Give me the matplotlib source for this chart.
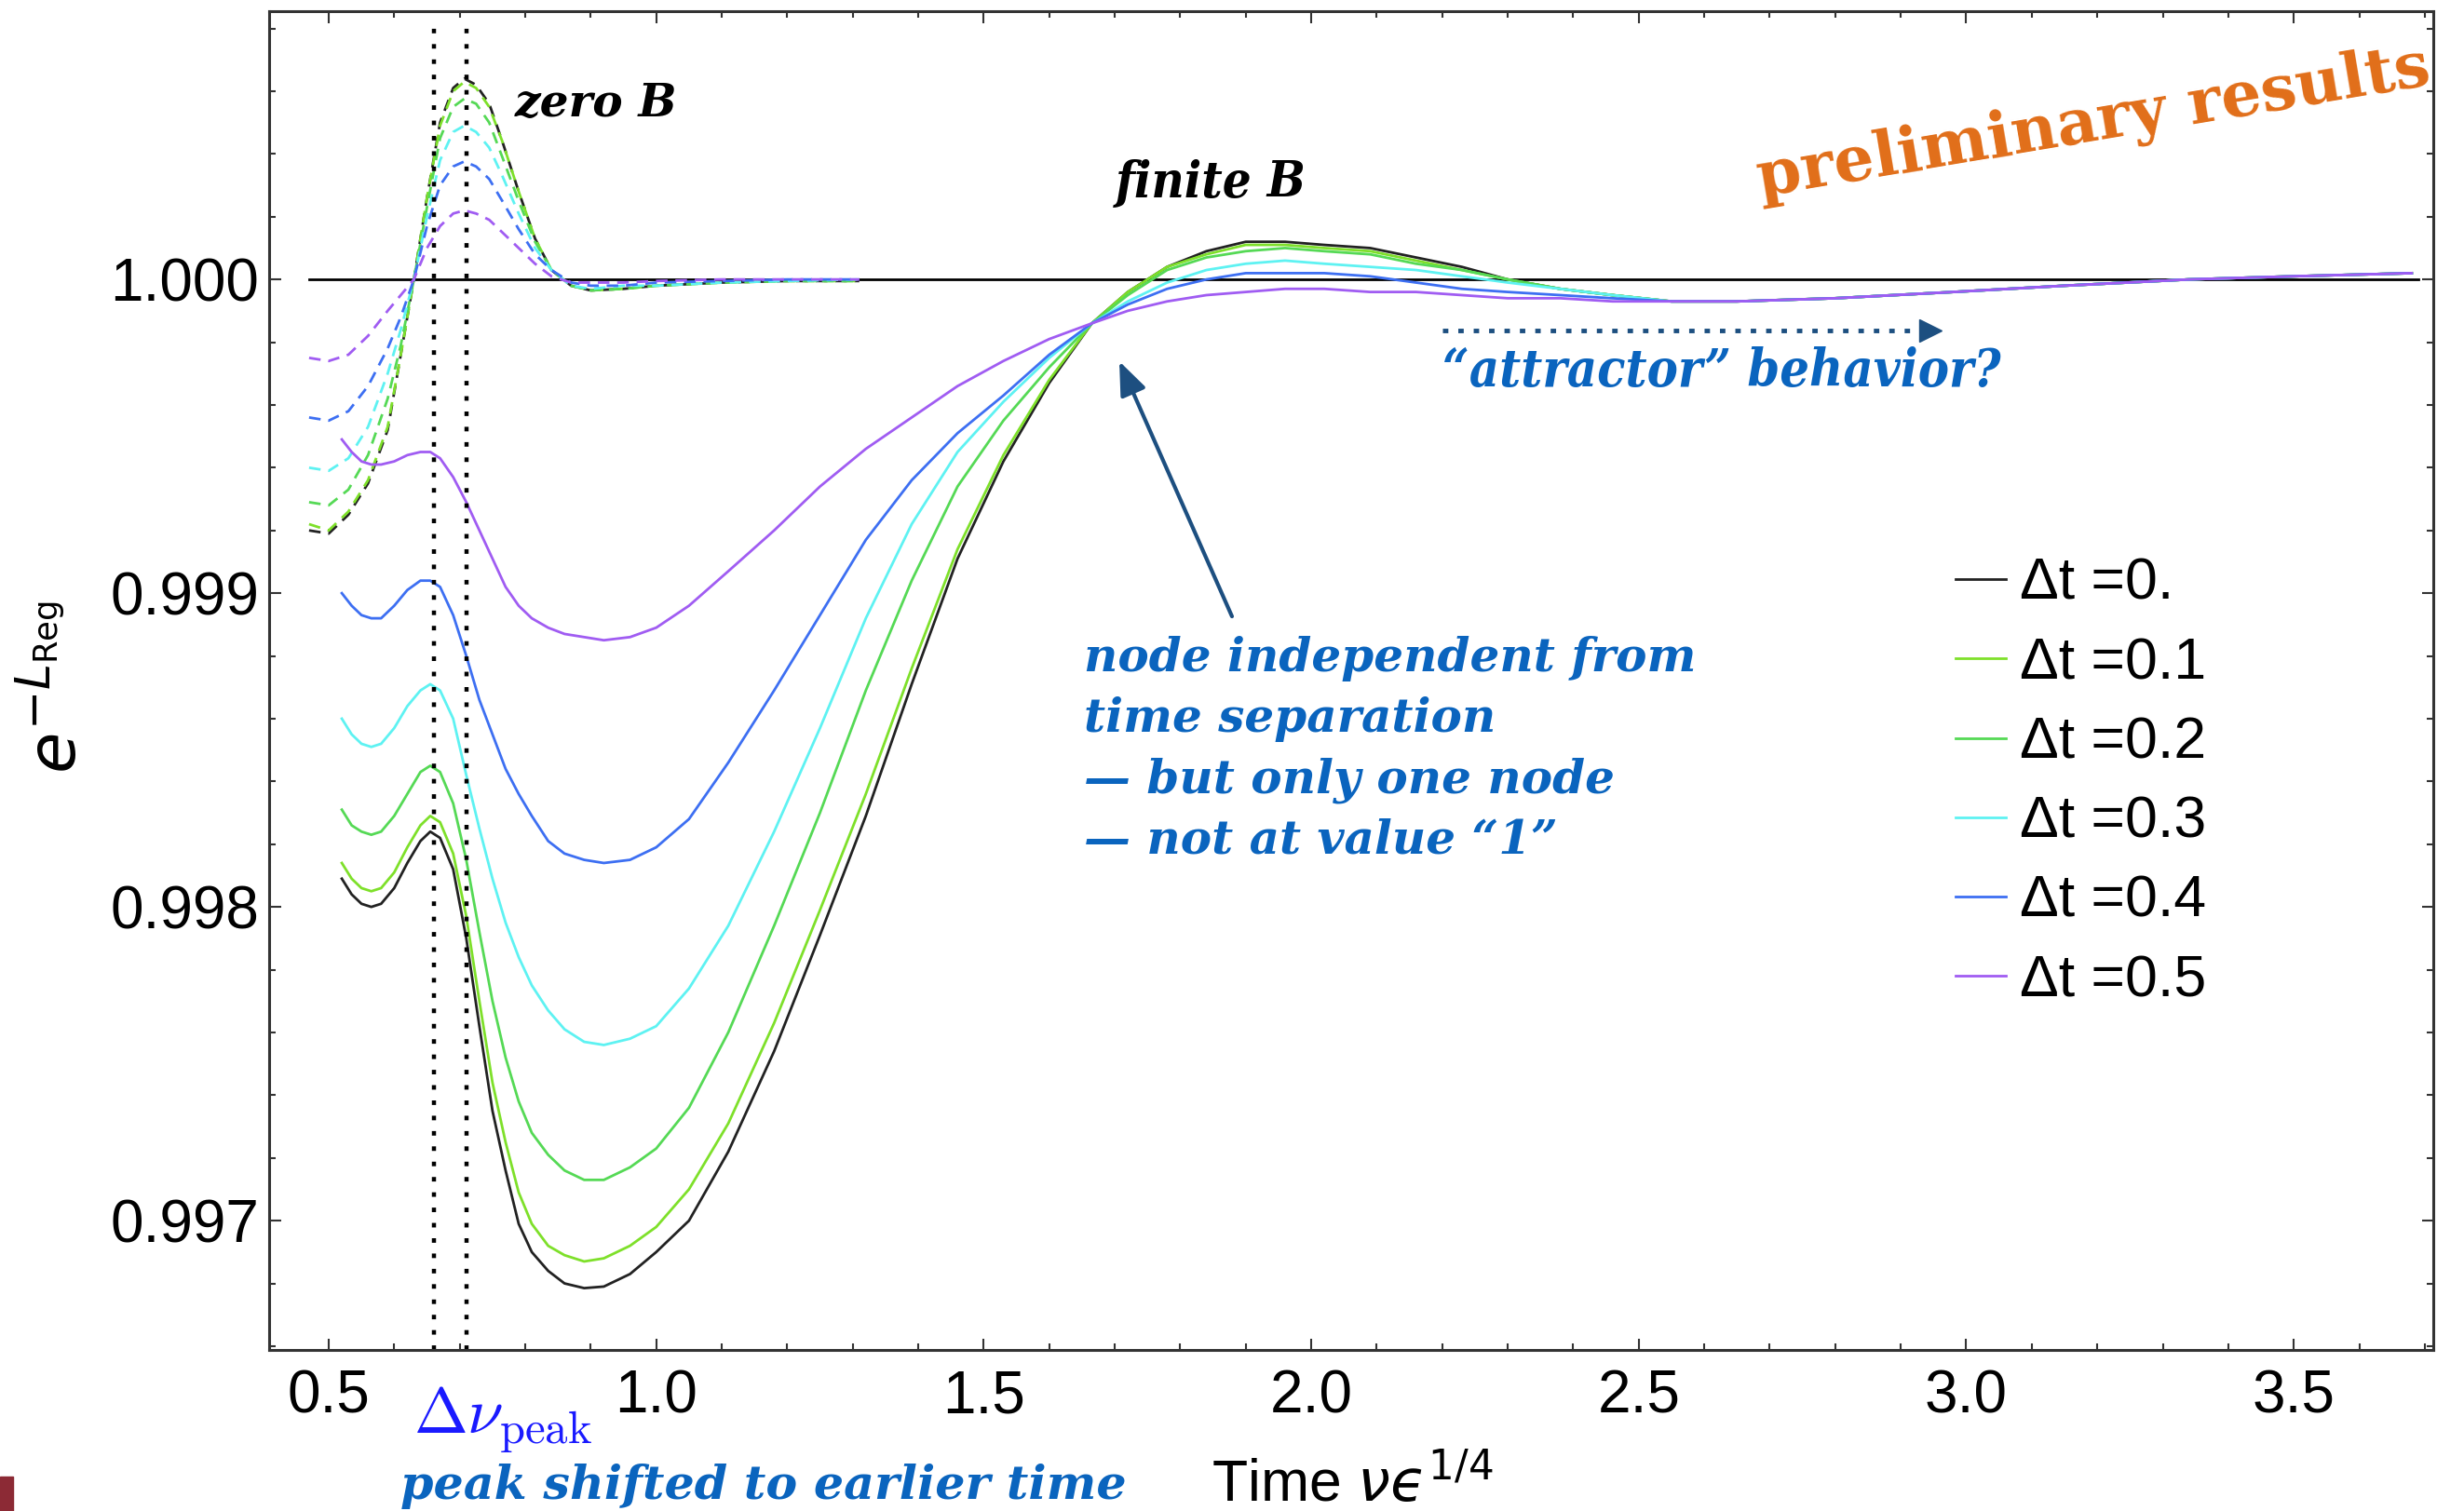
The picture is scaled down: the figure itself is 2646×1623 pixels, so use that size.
import matplotlib

matplotlib.use("Agg")
import matplotlib.pyplot as plt
from matplotlib.patches import Rectangle
from matplotlib.ticker import FormatStrFormatter, MultipleLocator

plt.rcParams["font.family"] = ["Liberation Sans", "DejaVu Sans"]
plt.rcParams["mathtext.fontset"] = "dejavusans"

# ---- data ---------------------------------------------------------------
dt_labels = ["Δt =0.", "Δt =0.1", "Δt =0.2", "Δt =0.3", "Δt =0.4", "Δt =0.5"]
dt_colors = ["#222222", "#7ee02a", "#55d955", "#5ef2f2", "#3d6ff2", "#a05cf2"]

# finite B (solid)
time_finite = [0.52, 0.535, 0.55, 0.565, 0.58, 0.60, 0.62, 0.64, 0.655, 0.67,
               0.69, 0.71, 0.73, 0.75, 0.77, 0.79, 0.81, 0.835, 0.86, 0.89,
               0.92, 0.96, 1.00, 1.05,
               1.11, 1.18, 1.25, 1.32, 1.39, 1.46, 1.53, 1.60, 1.665, 1.72,
               1.78, 1.84, 1.90, 1.96, 2.02, 2.09, 2.16, 2.23, 2.30, 2.38,
               2.46, 2.55, 2.65, 2.80, 2.98, 3.15, 3.34, 3.50, 3.68]
finite_dt00 = [0.99809, 0.99804, 0.99801, 0.99800, 0.99801, 0.99806, 0.99814, 0.99821, 0.99824, 0.99822,
               0.99812, 0.99790, 0.99762, 0.99735, 0.99716, 0.99699, 0.99690, 0.99684, 0.99680, 0.996785,
               0.99679, 0.99683, 0.99690, 0.99700,
               0.99722, 0.99754, 0.99791, 0.99829, 0.99871, 0.99911, 0.99942, 0.99967, 0.99986, 0.99996,
               1.00004, 1.00009, 1.00012, 1.00012, 1.00011, 1.00010, 1.00007, 1.00004, 1.00000, 0.99997,
               0.99995, 0.99993, 0.99993, 0.99994, 0.99996, 0.99998, 1.00000, 1.00001, 1.00002]
finite_dt01 = [0.99814, 0.99809, 0.99806, 0.99805, 0.99806, 0.99811, 0.99819, 0.99826, 0.99829, 0.99827,
               0.99817, 0.99797, 0.99770, 0.99744, 0.99725, 0.99709, 0.99699, 0.99692, 0.99689, 0.99687,
               0.99688, 0.99692, 0.99698, 0.99710,
               0.99731, 0.99763, 0.99799, 0.99836, 0.99876, 0.99914, 0.99944, 0.99968, 0.99986, 0.99996,
               1.00004, 1.00008, 1.00011, 1.00011, 1.00010, 1.00009, 1.00006, 1.00003, 1.00000, 0.99997,
               0.99995, 0.99993, 0.99993, 0.99994, 0.99996, 0.99998, 1.00000, 1.00001, 1.00002]
finite_dt02 = [0.99831, 0.99826, 0.99824, 0.99823, 0.99824, 0.99829, 0.99836, 0.99843, 0.99845, 0.99843,
               0.99833, 0.99815, 0.99792, 0.99770, 0.99752, 0.99738, 0.99728, 0.99721, 0.99716, 0.99713,
               0.99713, 0.99717, 0.99723, 0.99736,
               0.99760, 0.99794, 0.99830, 0.99869, 0.99904, 0.99934, 0.99955, 0.99972, 0.99986, 0.99995,
               1.00003, 1.00007, 1.00009, 1.00010, 1.00009, 1.00008, 1.00005, 1.00003, 1.00000, 0.99997,
               0.99995, 0.99993, 0.99993, 0.99994, 0.99996, 0.99998, 1.00000, 1.00001, 1.00002]
finite_dt03 = [0.99860, 0.99855, 0.99852, 0.99851, 0.99852, 0.99857, 0.99864, 0.99869, 0.99871, 0.99869,
               0.99860, 0.99842, 0.99825, 0.99809, 0.99795, 0.99784, 0.99775, 0.99767, 0.99761, 0.99757,
               0.99756, 0.99758, 0.99762, 0.99774,
               0.99794, 0.99824, 0.99857, 0.99892, 0.99922, 0.99945, 0.99961, 0.99975, 0.99986, 0.99993,
               0.99999, 1.00003, 1.00005, 1.00006, 1.00005, 1.00004, 1.00003, 1.00001, 0.99999, 0.99997,
               0.99995, 0.99993, 0.99993, 0.99994, 0.99996, 0.99998, 1.00000, 1.00001, 1.00002]
finite_dt04 = [0.99900, 0.99896, 0.99893, 0.99892, 0.99892, 0.99896, 0.99901, 0.99904, 0.99904, 0.99902,
               0.99893, 0.99880, 0.99866, 0.99855, 0.99844, 0.99836, 0.99829, 0.99821, 0.99817, 0.99815,
               0.99814, 0.99815, 0.99819, 0.99828,
               0.99846, 0.99869, 0.99893, 0.99917, 0.99936, 0.99951, 0.99963, 0.99976, 0.99986, 0.99992,
               0.99997, 1.00000, 1.00002, 1.00002, 1.00002, 1.00001, 0.99999, 0.99997, 0.99996, 0.99995,
               0.99994, 0.99993, 0.99993, 0.99994, 0.99996, 0.99998, 1.00000, 1.00001, 1.00002]
finite_dt05 = [0.99949, 0.99945, 0.99942, 0.99941, 0.99941, 0.99942, 0.99944, 0.99945, 0.99945, 0.99943,
               0.99937, 0.99929, 0.99920, 0.99911, 0.99902, 0.99896, 0.99892, 0.99889, 0.99887, 0.99886,
               0.99885, 0.99886, 0.99889, 0.99896,
               0.99907, 0.99920, 0.99934, 0.99946, 0.99956, 0.99966, 0.99974, 0.99981, 0.99986, 0.99990,
               0.99993, 0.99995, 0.99996, 0.99997, 0.99997, 0.99996, 0.99996, 0.99995, 0.99994, 0.99994,
               0.99993, 0.99993, 0.99993, 0.99994, 0.99996, 0.99998, 1.00000, 1.00001, 1.00002]

# zero B (dashed)
time_zero = [0.47, 0.50, 0.53, 0.56, 0.59, 0.61, 0.63, 0.65, 0.67, 0.69, 0.707, 0.725,
             0.745, 0.765, 0.79, 0.815, 0.84, 0.87, 0.90, 0.95, 1.00, 1.10, 1.20, 1.31]
zero_dt00 = [0.99920, 0.99919, 0.99925, 0.99935, 0.99952, 0.99976, 1.00000, 1.00026, 1.00050, 1.00061,
             1.00064, 1.00062, 1.00056, 1.00044, 1.00028, 1.00013, 1.00003, 0.99998, 0.999965, 0.99997,
             0.99998, 0.99999, 0.999995, 0.999995]
zero_dt01 = [0.99922, 0.99920, 0.99926, 0.99936, 0.99953, 0.99976, 1.00000, 1.00026, 1.00049, 1.00060,
             1.00063, 1.00061, 1.00055, 1.00044, 1.00028, 1.00013, 1.00003, 0.99998, 0.999965, 0.99997,
             0.99998, 0.99999, 0.999995, 0.999995]
zero_dt02 = [0.99929, 0.99928, 0.99933, 0.99944, 0.99962, 0.99979, 1.00000, 1.00023, 1.00045, 1.00055,
             1.000576, 1.00056, 1.00050, 1.00039, 1.00025, 1.00012, 1.00003, 0.99998, 0.999965, 0.99997,
             0.99998, 0.99999, 0.999995, 0.999995]
zero_dt03 = [0.99940, 0.99939, 0.99943, 0.99953, 0.99970, 0.99984, 1.00000, 1.00020, 1.00038, 1.00047,
             1.00049, 1.00047, 1.00042, 1.00033, 1.00021, 1.00010, 1.00003, 0.99998, 0.99997, 0.99998,
             0.99998, 0.99999, 0.999995, 1.00000]
zero_dt04 = [0.99956, 0.99955, 0.99958, 0.99966, 0.99978, 0.99988, 1.00000, 1.00017, 1.00030, 1.00036,
             1.000376, 1.00036, 1.00032, 1.00025, 1.00016, 1.00008, 1.00003, 0.99999, 0.99998, 0.99998,
             0.99999, 0.999995, 1.00000, 1.00000]
zero_dt05 = [0.99975, 0.99974, 0.99976, 0.99982, 0.99990, 0.99995, 1.00000, 1.00010, 1.00017, 1.00021,
             1.00022, 1.00021, 1.00019, 1.00015, 1.00010, 1.00005, 1.00001, 0.99999, 0.99999, 0.99999,
             0.999995, 1.00000, 1.00000, 1.00000]

finite_series = [finite_dt00, finite_dt01, finite_dt02, finite_dt03, finite_dt04, finite_dt05]
zero_series = [zero_dt00, zero_dt01, zero_dt02, zero_dt03, zero_dt04, zero_dt05]

unity_x = [0.47, 3.69]
unity_y = [1.0, 1.0]
peak_times = [0.66, 0.71]

node_tip = (1.707, 0.999739)
node_tail = (1.879, 0.998926)
attractor_x = [2.20, 2.93]
attractor_y = [0.999837, 0.999837]
attractor_tip = 2.945

navy = "#1d4f80"
note_blue = "#0a64be"

# ---- figure -------------------------------------------------------------
W, H = 2646, 1623
fig = plt.figure(figsize=(W / 100, H / 100), dpi=100)
ax = fig.add_axes([289 / W, 1 - 1450 / H, (2613 - 289) / W, (1450 - 12) / H])

for ys, col in zip(zero_series, dt_colors):
    ax.plot(time_zero, ys, color=col, lw=2.0, linestyle=(0, (4.5, 3)))

handles = []
for ys, col, lab in zip(finite_series, dt_colors, dt_labels):
    (ln,) = ax.plot(time_finite, ys, color=col, lw=2.0, label=lab)
    handles.append(ln)

ax.plot(unity_x, unity_y, color="black", lw=2.0, zorder=1)

for t in peak_times:
    ax.axvline(t, ymin=0, ymax=0.99, color="black", lw=3.2,
               linestyle=(0, (1.1, 2.6)), dash_capstyle="butt")

ax.set_xlim(0.409, 3.713)
ax.set_ylim(0.996588, 1.000855)

ax.xaxis.set_major_locator(MultipleLocator(0.5))
ax.xaxis.set_minor_locator(MultipleLocator(0.1))
ax.yaxis.set_major_locator(MultipleLocator(0.001))
ax.yaxis.set_minor_locator(MultipleLocator(0.0002))
ax.xaxis.set_major_formatter(FormatStrFormatter("%.1f"))
ax.yaxis.set_major_formatter(FormatStrFormatter("%.3f"))
ax.tick_params(which="both", direction="in", top=True, right=True,
               width=1.5, color="#333333", labelsize=46)
ax.tick_params(which="major", length=9)
ax.tick_params(which="minor", length=5)
ax.tick_params(axis="y", pad=8)
ax.tick_params(axis="x", pad=15)
for sp in ax.spines.values():
    sp.set_linewidth(2.2)
    sp.set_color("#333333")

leg = ax.legend(handles=handles, loc="upper left", bbox_to_anchor=(2100 / W, 1 - 598 / H),
                bbox_transform=fig.transFigure, frameon=False, fontsize=45,
                handlelength=0.86, handletextpad=0.25, labelspacing=0.42, borderpad=0,
                borderaxespad=0)
for lh in leg.get_lines():
    lh.set_linewidth(2.0)

# axis labels
fig.text(0.023, 0.545, r"$e^{-L_{\mathrm{Reg}}}$", rotation=90, ha="center", va="center",
         fontsize=52)
fig.text(1301 / W, 0.006, r"Time $\nuϵ^{1/4}$", ha="left", va="baseline", fontsize=45)

# annotations
serif = "DejaVu Serif"
ax.text(0.784, 1.000519, "zero B", fontsize=35, family=serif, weight="bold",
        style="italic", color="black", va="baseline")
ax.text(1.701, 1.000261, "finite B", fontsize=39, family=serif, weight="bold",
        style="italic", stretch="condensed", color="black", va="baseline")
ax.text(1.653, 0.998863,
        "node independent from\ntime separation\n— but only one node\n— not at value “1”",
        fontsize=36, family=serif, weight="bold", style="italic", color=note_blue,
        va="top", ha="left", linespacing=1.42)
ax.text(2.200, 0.999659, "“attractor” behavior?", fontsize=40, family=serif,
        weight="bold", style="italic", stretch="condensed", color=note_blue, va="baseline")

ax.annotate("", xy=node_tip, xytext=node_tail,
            arrowprops=dict(arrowstyle="-|>,head_length=1.0,head_width=0.4",
                            color=navy, lw=3, mutation_scale=22, shrinkA=0, shrinkB=0))
ax.plot(attractor_x, attractor_y, color=navy, lw=3.5,
        linestyle=(0, (1.2, 2.2)), dash_capstyle="butt")
ax.plot([attractor_tip], attractor_y[1:], marker=">", markersize=17, color=navy,
        linestyle="none")

fig.text(444 / W, 1 - 1540 / H, r"$\Delta\nu_{\mathrm{peak}}$", color="#1a1aff",
         fontsize=50, math_fontfamily="cm", va="baseline", ha="left")
fig.text(430 / W, 0.008, "peak shifted to earlier time", fontsize=36.5, family=serif,
         weight="bold", style="italic", color=note_blue, va="baseline", ha="left")
fig.text(2612 / W, 1 - 90 / H, "preliminary results", rotation=9.5, rotation_mode="anchor",
         ha="right", va="baseline", fontsize=49, family=serif, weight="bold",
         color="#e16e19")

fig.patches.append(Rectangle((0, 0), 14 / W, 37 / H, transform=fig.transFigure,
                             color="#8c2a35", figure=fig))

fig.savefig("out.png", dpi=100)
